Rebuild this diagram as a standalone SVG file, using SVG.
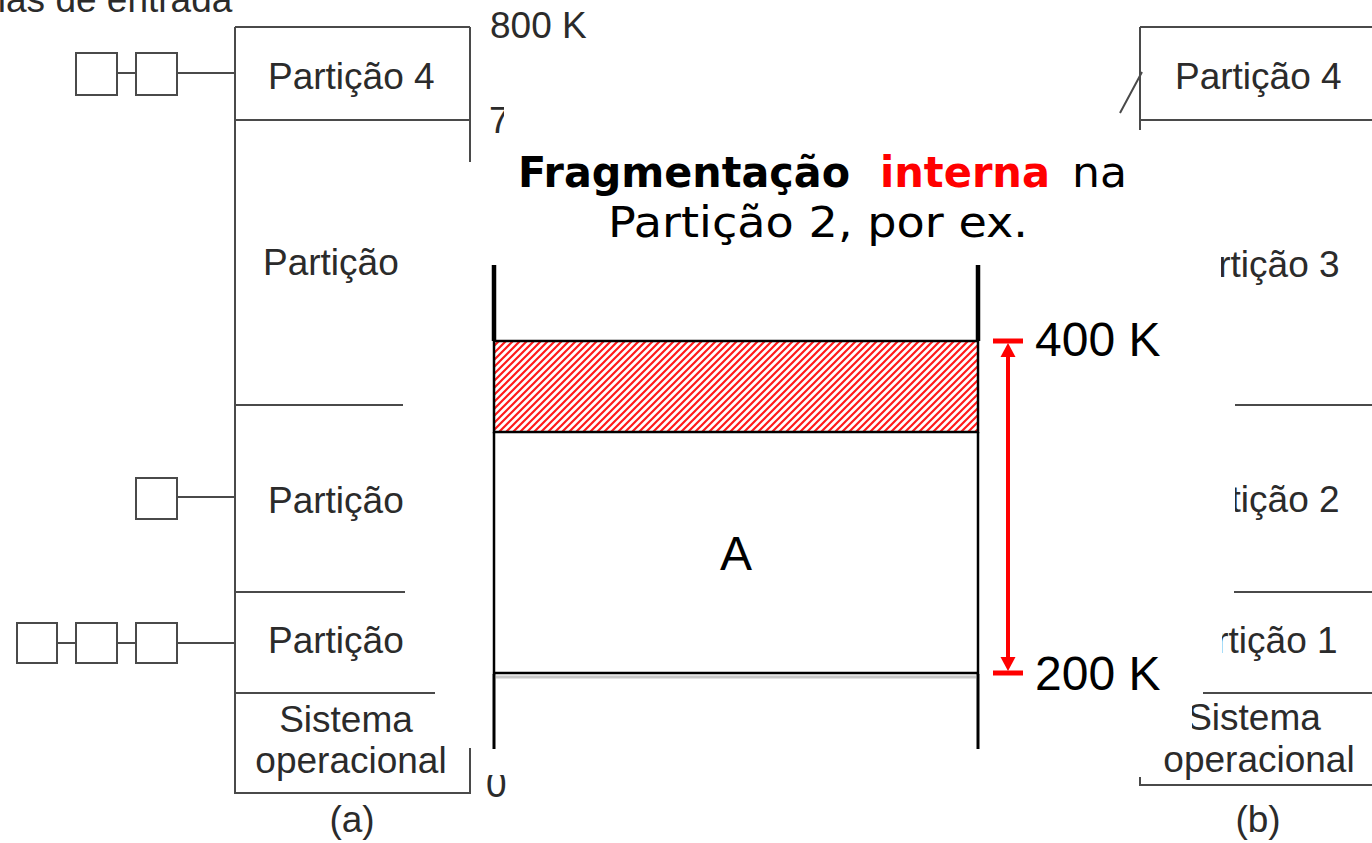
<svg xmlns="http://www.w3.org/2000/svg" width="1372" height="843" viewBox="0 0 1372 843">
<style>
.bg{stroke:#4a4a4a;stroke-width:2;fill:none}
.bgt{font-family:"Liberation Sans",Arial,sans-serif;font-size:37px;fill:#2b2b2b}
.occ{fill:#fff;stroke:none}
.ttl{font-family:"DejaVu Sans","Noto Sans",sans-serif;font-size:43px;fill:#000}
.lbl{font-family:"Liberation Sans",Arial,sans-serif;font-size:48px;fill:#000}
.blk{stroke:#000;fill:none}
</style>
<defs>
<pattern id="hatch" patternUnits="userSpaceOnUse" width="7" height="7">
<rect width="7" height="7" fill="#fff"/>
<path d="M-1,8 L8,-1 M-4,4 L4,-4 M3,11 L11,3" stroke="#ff1a1a" stroke-width="2.2"/>
</pattern>
<marker id="ah" markerUnits="userSpaceOnUse" markerWidth="15" markerHeight="16" refX="0" refY="8" orient="auto-start-reverse">
<path d="M0,0.5 L14,8 L0,15.5 z" fill="#ff0000"/>
</marker>
</defs>

<g id="background-figure">
<g id="fig-a">
<path class="bg" d="M235,27 H470 M235,27 V793 H470 V748 M470,27 V162 M235,120 H470 M235,405 H403 M235,592 H405 M235,693 H435"/>
<g id="queue-4">
<rect class="bg" x="76" y="53" width="41" height="42"/>
<rect class="bg" x="136" y="53" width="41" height="42"/>
<path class="bg" d="M117,73 H136 M177,73 H235"/>
</g>
<g id="queue-2">
<rect class="bg" x="136" y="478" width="41" height="41"/>
<path class="bg" d="M177,497 H235"/>
</g>
<g id="queue-1">
<rect class="bg" x="17" y="623" width="40" height="40"/>
<rect class="bg" x="76" y="623" width="41" height="40"/>
<rect class="bg" x="136" y="623" width="41" height="40"/>
<path class="bg" d="M57,643 H76 M117,643 H136 M177,643 H235"/>
</g>
<text class="bgt" x="-33" y="12">Filas de entrada</text>
<text class="bgt" x="268" y="89">Partição 4</text>
<text class="bgt" x="263" y="275">Partição 3</text>
<text class="bgt" x="268" y="513">Partição 2</text>
<text class="bgt" x="268" y="653">Partição 1</text>
<text class="bgt" x="346" y="732" text-anchor="middle">Sistema</text>
<text class="bgt" x="351" y="773" text-anchor="middle">operacional</text>
<text class="bgt" x="352" y="832" text-anchor="middle">(a)</text>
<text class="bgt" x="490" y="38">800 K</text>
<text class="bgt" x="489" y="133">720 K</text>
<text class="bgt" x="486" y="797">0</text>
</g>
<g id="fig-b">
<path class="bg" d="M1140,27 H1372 M1140,27 V130 M1140,120 H1372 M1120,113 L1142,72 M1235,405 H1372 M1234,592 H1372 M1203,693 H1372 M1140,777 V785 H1372"/>
<text class="bgt" x="1175" y="89">Partição 4</text>
<text class="bgt" x="1173" y="277">Partição 3</text>
<text class="bgt" x="1173" y="512">Partição 2</text>
<text class="bgt" x="1171" y="653">Partição 1</text>
<text class="bgt" x="1254" y="730" text-anchor="middle">Sistema</text>
<text class="bgt" x="1259" y="772" text-anchor="middle">operacional</text>
<text class="bgt" x="1258" y="832" text-anchor="middle">(b)</text>
</g>
<g id="occluders">
<rect class="occ" x="504" y="103" width="100" height="50"/>
<rect class="occ" x="410" y="235" width="60" height="60"/>
<rect class="occ" x="405" y="476" width="50" height="52"/>
<rect class="occ" x="405" y="616" width="50" height="52"/>
<rect class="occ" x="478" y="735" width="40" height="40"/>
<rect class="occ" x="1150" y="235" width="71" height="60"/>
<rect class="occ" x="1150" y="476" width="85" height="52"/>
<rect class="occ" x="1150" y="616" width="72" height="52"/>
<rect class="occ" x="1150" y="698" width="42" height="40"/>
</g>
</g>

<g id="title">
<text class="ttl" x="518" y="187" font-weight="bold" textLength="332" lengthAdjust="spacingAndGlyphs">Fragmentação</text>
<text class="ttl" x="880" y="187" font-weight="bold" style="fill:#ff0000" textLength="170" lengthAdjust="spacingAndGlyphs">interna</text>
<text class="ttl" x="1072" y="187" textLength="55" lengthAdjust="spacingAndGlyphs">na</text>
<text class="ttl" x="608" y="237" textLength="420" lengthAdjust="spacingAndGlyphs">Partição 2, por ex.</text>
</g>

<g id="partition-2">
<path class="blk" stroke-width="4.5" d="M494,265 V341 M978,265 V341"/>
<g id="fragment">
<rect x="494" y="341" width="484" height="91" fill="url(#hatch)" stroke="#000" stroke-width="2.5"/>
</g>
<g id="process-A">
<path class="blk" stroke-width="2.5" d="M494,432 V673 H978 V432"/>
<text class="lbl" x="736" y="570" text-anchor="middle">A</text>
</g>
<g id="lower">
<path d="M496,677 H976" stroke="#c8c8c8" stroke-width="3" fill="none"/>
<path class="blk" stroke-width="3" d="M494,674 V749 M978,674 V749"/>
</g>
</g>

<g id="connectors">
<path d="M993,341 H1023 M993,673 H1023" stroke="#ff0000" stroke-width="5" fill="none"/>
<line x1="1008" y1="357" x2="1008" y2="657" stroke="#ff0000" stroke-width="4" marker-start="url(#ah)" marker-end="url(#ah)"/>
</g>

<g id="labels">
<text class="lbl" x="1035" y="356">400 K</text>
<text class="lbl" x="1035" y="690">200 K</text>
</g>
</svg>
